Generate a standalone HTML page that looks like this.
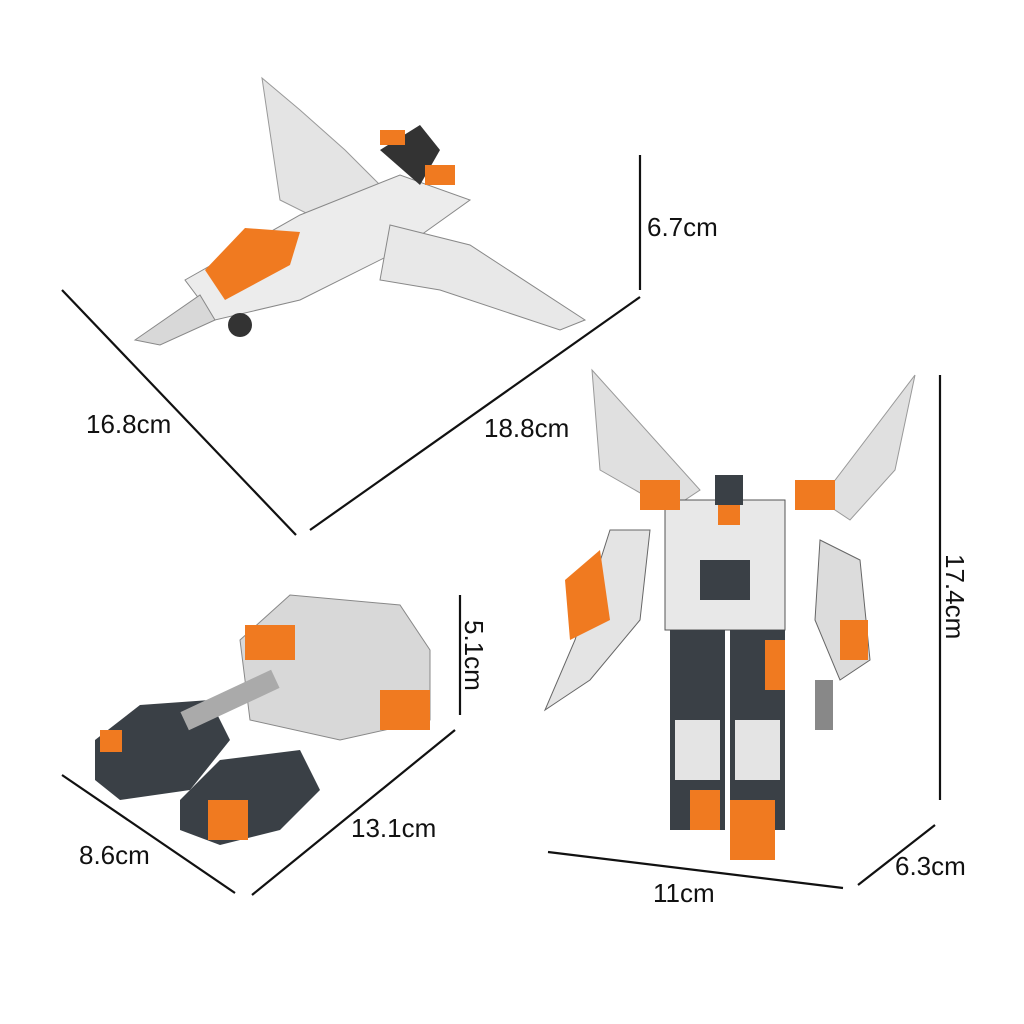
<!DOCTYPE html>
<html><head><meta charset="utf-8"><style>
html,body{margin:0;padding:0;background:#fff;}
svg{display:block}
text{font-family:"Liberation Sans",sans-serif;font-size:26px;fill:#111}
</style></head><body>
<svg width="1024" height="1024" viewBox="0 0 1024 1024" xmlns="http://www.w3.org/2000/svg">
<g stroke="#111" stroke-width="2.2" fill="none">
<line x1="640" y1="155" x2="640" y2="290"/>
<line x1="62" y1="290" x2="296" y2="535"/>
<line x1="310" y1="530" x2="640" y2="297"/>
<line x1="940" y1="375" x2="940" y2="800"/>
<line x1="548" y1="852" x2="843" y2="888"/>
<line x1="858" y1="885" x2="935" y2="825"/>
<line x1="460" y1="595" x2="460" y2="715"/>
<line x1="62" y1="775" x2="235" y2="893"/>
<line x1="252" y1="895" x2="455" y2="730"/>
</g>
<text x="647" y="236">6.7cm</text>
<text x="86" y="433">16.8cm</text>
<text x="484" y="437">18.8cm</text>
<text x="653" y="902">11cm</text>
<text x="895" y="875">6.3cm</text>
<text x="79" y="864">8.6cm</text>
<text x="351" y="837">13.1cm</text>
<text transform="translate(946,554) rotate(90)">17.4cm</text>
<text transform="translate(465,620) rotate(90)">5.1cm</text>

<!-- jet -->
<g>
<polygon points="262,78 300,110 345,150 380,185 310,215 280,200" fill="#e4e4e4" stroke="#999"/>
<polygon points="185,280 300,215 400,175 470,200 400,250 300,300 215,320" fill="#ececec" stroke="#888"/>
<polygon points="390,225 470,245 585,320 560,330 440,290 380,280" fill="#e8e8e8" stroke="#888"/>
<polygon points="205,270 245,228 300,232 290,265 225,300" fill="#f07a20"/>
<polygon points="135,340 200,295 215,320 160,345" fill="#d8d8d8" stroke="#888"/>
<circle cx="240" cy="325" r="12" fill="#333"/>
<polygon points="380,150 420,125 440,150 420,185" fill="#333"/>
<rect x="425" y="165" width="30" height="20" fill="#f07a20"/>
<rect x="380" y="130" width="25" height="15" fill="#f07a20"/>
</g>

<!-- tank -->
<g>
<polygon points="240,640 290,595 400,605 430,650 430,720 340,740 250,720" fill="#d8d8d8" stroke="#888"/>
<rect x="245" y="625" width="50" height="35" fill="#f07a20"/>
<polygon points="95,740 140,705 210,700 230,740 190,790 120,800 95,780" fill="#3a4046"/>
<rect x="100" y="730" width="22" height="22" fill="#f07a20"/>
<polygon points="180,800 220,760 300,750 320,790 280,830 220,845 180,830" fill="#3a4046"/>
<rect x="208" y="800" width="40" height="40" fill="#f07a20"/>
<rect x="180" y="690" width="100" height="20" fill="#aaa" transform="rotate(-25 230 700)"/>
<rect x="380" y="690" width="50" height="40" fill="#f07a20"/>
</g>

<!-- robot -->
<g>
<polygon points="592,370 700,490 670,510 600,470" fill="#e0e0e0" stroke="#999"/>
<polygon points="915,375 820,500 850,520 895,470" fill="#e0e0e0" stroke="#999"/>
<rect x="665" y="500" width="120" height="130" fill="#e8e8e8" stroke="#555"/>
<rect x="700" y="560" width="50" height="40" fill="#3a4046"/>
<rect x="715" y="475" width="28" height="30" fill="#3a4046"/>
<rect x="718" y="505" width="22" height="20" fill="#f07a20"/>
<rect x="640" y="480" width="40" height="30" fill="#f07a20"/>
<rect x="795" y="480" width="40" height="30" fill="#f07a20"/>
<polygon points="610,530 650,530 640,620 590,680 560,700 545,710 575,640" fill="#e4e4e4" stroke="#666"/>
<polygon points="565,580 600,550 610,620 570,640" fill="#f07a20"/>
<polygon points="820,540 860,560 870,660 840,680 815,620" fill="#dcdcdc" stroke="#666"/>
<rect x="840" y="620" width="28" height="40" fill="#f07a20"/>
<rect x="815" y="680" width="18" height="50" fill="#888"/>
<rect x="670" y="630" width="55" height="200" fill="#3a4046"/>
<rect x="730" y="630" width="55" height="200" fill="#3a4046"/>
<rect x="675" y="720" width="45" height="60" fill="#e4e4e4"/>
<rect x="735" y="720" width="45" height="60" fill="#e4e4e4"/>
<rect x="730" y="800" width="45" height="60" fill="#f07a20"/>
<rect x="690" y="790" width="30" height="40" fill="#f07a20"/>
<rect x="765" y="640" width="20" height="50" fill="#f07a20"/>
</g>
</svg>
</body></html>
